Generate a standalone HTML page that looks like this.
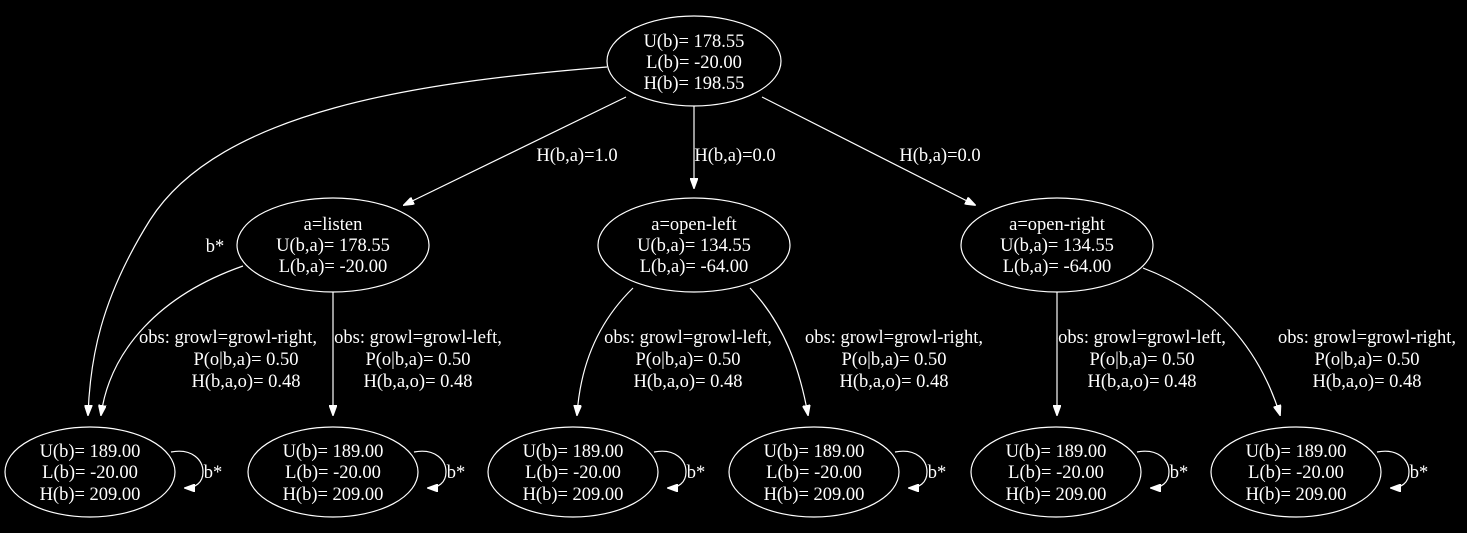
<!DOCTYPE html>
<html><head><meta charset="utf-8"><style>
html,body{margin:0;padding:0;background:#000;}
svg{display:block;}
text{font-family:"Liberation Serif",serif;font-size:18.5px;fill:#fff;text-anchor:middle;}
.e{fill:none;stroke:#fff;stroke-width:1.2;}
</style></head><body>
<svg width="1467" height="533" viewBox="0 0 1467 533" xmlns="http://www.w3.org/2000/svg">
<defs><marker id="a" markerWidth="11" markerHeight="8" refX="10" refY="4" orient="auto" markerUnits="userSpaceOnUse"><path d="M0,0 L11,4 L0,8 Z" fill="#fff" stroke="#fff"/></marker></defs>
<rect width="1467" height="533" fill="#000"/>
<ellipse class="e" cx="694" cy="61" rx="87" ry="45"/>
<text x="694" y="47">U(b)= 178.55</text><text x="694" y="68">L(b)= -20.00</text><text x="694" y="89">H(b)= 198.55</text>

<ellipse class="e" cx="333" cy="245" rx="96" ry="47"/>
<text x="333" y="230">a=listen</text><text x="333" y="251">U(b,a)= 178.55</text><text x="333" y="272">L(b,a)= -20.00</text>
<ellipse class="e" cx="694" cy="245" rx="96" ry="47"/>
<text x="694" y="230">a=open-left</text><text x="694" y="251">U(b,a)= 134.55</text><text x="694" y="272">L(b,a)= -64.00</text>
<ellipse class="e" cx="1057" cy="245" rx="96" ry="47"/>
<text x="1057" y="230">a=open-right</text><text x="1057" y="251">U(b,a)= 134.55</text><text x="1057" y="272">L(b,a)= -64.00</text>

<g id="b1"><ellipse class="e" cx="90" cy="472" rx="85" ry="45"/>
<text x="90" y="457">U(b)= 189.00</text><text x="90" y="478">L(b)= -20.00</text><text x="90" y="500">H(b)= 209.00</text>
<path class="e" d="M171,452 C192,448 203,460 203,472 C203,483 195,488 185,488" marker-end="url(#a)"/>
<text x="213" y="478">b*</text></g>
<use href="#b1" x="243"/>
<use href="#b1" x="483"/>
<use href="#b1" x="724"/>
<use href="#b1" x="966"/>
<use href="#b1" x="1206"/>

<path class="e" d="M626,97 L404,205" marker-end="url(#a)"/>
<text x="577" y="161">H(b,a)=1.0</text>
<path class="e" d="M694,106 L694,188" marker-end="url(#a)"/>
<text x="735" y="161">H(b,a)=0.0</text>
<path class="e" d="M762,97 L975,205" marker-end="url(#a)"/>
<text x="940" y="161">H(b,a)=0.0</text>
<path class="e" d="M607,67 C420,82 220,110 150,220 C100,300 90,360 88,415" marker-end="url(#a)"/>
<text x="215" y="252">b*</text>

<path class="e" d="M243,266 C160,295 110,350 101,415" marker-end="url(#a)"/>
<text x="228" y="343">obs: growl=growl-right,</text><text x="246" y="365">P(o|b,a)= 0.50</text><text x="246" y="387">H(b,a,o)= 0.48</text>
<path class="e" d="M333,292 L333,415" marker-end="url(#a)"/>
<text x="418" y="343">obs: growl=growl-left,</text><text x="418" y="365">P(o|b,a)= 0.50</text><text x="418" y="387">H(b,a,o)= 0.48</text>
<path class="e" d="M633,288 C595,325 580,370 577,415" marker-end="url(#a)"/>
<text x="688" y="343">obs: growl=growl-left,</text><text x="688" y="365">P(o|b,a)= 0.50</text><text x="688" y="387">H(b,a,o)= 0.48</text>
<path class="e" d="M750,288 C785,325 800,370 808,415" marker-end="url(#a)"/>
<text x="894" y="343">obs: growl=growl-right,</text><text x="894" y="365">P(o|b,a)= 0.50</text><text x="894" y="387">H(b,a,o)= 0.48</text>
<path class="e" d="M1057,292 L1057,415" marker-end="url(#a)"/>
<text x="1142" y="343">obs: growl=growl-left,</text><text x="1142" y="365">P(o|b,a)= 0.50</text><text x="1142" y="387">H(b,a,o)= 0.48</text>
<path class="e" d="M1143,268 C1215,295 1260,350 1280,415" marker-end="url(#a)"/>
<text x="1367" y="343">obs: growl=growl-right,</text><text x="1367" y="365">P(o|b,a)= 0.50</text><text x="1367" y="387">H(b,a,o)= 0.48</text>
</svg>
</body></html>
